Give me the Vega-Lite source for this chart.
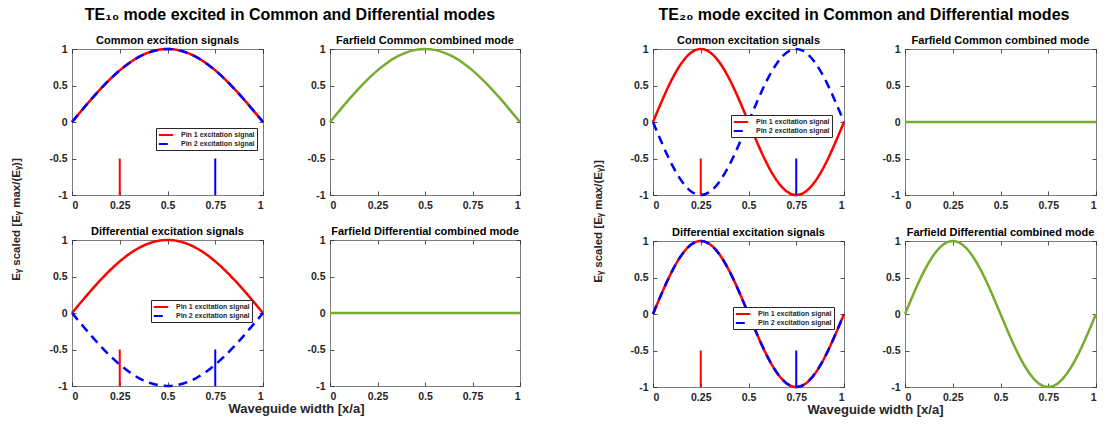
{
  "$schema": "https://vega.github.io/schema/vega-lite/v6.json",
  "background": "white",
  "autosize": {"type": "pad"},
  "padding": {"left": 9, "top": 6, "right": 0, "bottom": 0},
  "datasets": {
    "te10_common": [
      {"x":0,"Pin 1 excitation signal":0,"Pin 2 excitation signal":0,"Farfield":0},
      {"x":0.05,"Pin 1 excitation signal":0.156,"Pin 2 excitation signal":0.156,"Farfield":0.156},
      {"x":0.1,"Pin 1 excitation signal":0.309,"Pin 2 excitation signal":0.309,"Farfield":0.309},
      {"x":0.15,"Pin 1 excitation signal":0.454,"Pin 2 excitation signal":0.454,"Farfield":0.454},
      {"x":0.2,"Pin 1 excitation signal":0.588,"Pin 2 excitation signal":0.588,"Farfield":0.588},
      {"x":0.25,"Pin 1 excitation signal":0.707,"Pin 2 excitation signal":0.707,"Farfield":0.707},
      {"x":0.3,"Pin 1 excitation signal":0.809,"Pin 2 excitation signal":0.809,"Farfield":0.809},
      {"x":0.35,"Pin 1 excitation signal":0.891,"Pin 2 excitation signal":0.891,"Farfield":0.891},
      {"x":0.4,"Pin 1 excitation signal":0.951,"Pin 2 excitation signal":0.951,"Farfield":0.951},
      {"x":0.45,"Pin 1 excitation signal":0.988,"Pin 2 excitation signal":0.988,"Farfield":0.988},
      {"x":0.5,"Pin 1 excitation signal":1,"Pin 2 excitation signal":1,"Farfield":1},
      {"x":0.55,"Pin 1 excitation signal":0.988,"Pin 2 excitation signal":0.988,"Farfield":0.988},
      {"x":0.6,"Pin 1 excitation signal":0.951,"Pin 2 excitation signal":0.951,"Farfield":0.951},
      {"x":0.65,"Pin 1 excitation signal":0.891,"Pin 2 excitation signal":0.891,"Farfield":0.891},
      {"x":0.7,"Pin 1 excitation signal":0.809,"Pin 2 excitation signal":0.809,"Farfield":0.809},
      {"x":0.75,"Pin 1 excitation signal":0.707,"Pin 2 excitation signal":0.707,"Farfield":0.707},
      {"x":0.8,"Pin 1 excitation signal":0.588,"Pin 2 excitation signal":0.588,"Farfield":0.588},
      {"x":0.85,"Pin 1 excitation signal":0.454,"Pin 2 excitation signal":0.454,"Farfield":0.454},
      {"x":0.9,"Pin 1 excitation signal":0.309,"Pin 2 excitation signal":0.309,"Farfield":0.309},
      {"x":0.95,"Pin 1 excitation signal":0.156,"Pin 2 excitation signal":0.156,"Farfield":0.156},
      {"x":1,"Pin 1 excitation signal":0,"Pin 2 excitation signal":0,"Farfield":0}
    ],
    "te10_diff": [
      {"x":0,"Pin 1 excitation signal":0,"Pin 2 excitation signal":0,"Farfield":0},
      {"x":0.05,"Pin 1 excitation signal":0.156,"Pin 2 excitation signal":-0.156,"Farfield":0},
      {"x":0.1,"Pin 1 excitation signal":0.309,"Pin 2 excitation signal":-0.309,"Farfield":0},
      {"x":0.15,"Pin 1 excitation signal":0.454,"Pin 2 excitation signal":-0.454,"Farfield":0},
      {"x":0.2,"Pin 1 excitation signal":0.588,"Pin 2 excitation signal":-0.588,"Farfield":0},
      {"x":0.25,"Pin 1 excitation signal":0.707,"Pin 2 excitation signal":-0.707,"Farfield":0},
      {"x":0.3,"Pin 1 excitation signal":0.809,"Pin 2 excitation signal":-0.809,"Farfield":0},
      {"x":0.35,"Pin 1 excitation signal":0.891,"Pin 2 excitation signal":-0.891,"Farfield":0},
      {"x":0.4,"Pin 1 excitation signal":0.951,"Pin 2 excitation signal":-0.951,"Farfield":0},
      {"x":0.45,"Pin 1 excitation signal":0.988,"Pin 2 excitation signal":-0.988,"Farfield":0},
      {"x":0.5,"Pin 1 excitation signal":1,"Pin 2 excitation signal":-1,"Farfield":0},
      {"x":0.55,"Pin 1 excitation signal":0.988,"Pin 2 excitation signal":-0.988,"Farfield":0},
      {"x":0.6,"Pin 1 excitation signal":0.951,"Pin 2 excitation signal":-0.951,"Farfield":0},
      {"x":0.65,"Pin 1 excitation signal":0.891,"Pin 2 excitation signal":-0.891,"Farfield":0},
      {"x":0.7,"Pin 1 excitation signal":0.809,"Pin 2 excitation signal":-0.809,"Farfield":0},
      {"x":0.75,"Pin 1 excitation signal":0.707,"Pin 2 excitation signal":-0.707,"Farfield":0},
      {"x":0.8,"Pin 1 excitation signal":0.588,"Pin 2 excitation signal":-0.588,"Farfield":0},
      {"x":0.85,"Pin 1 excitation signal":0.454,"Pin 2 excitation signal":-0.454,"Farfield":0},
      {"x":0.9,"Pin 1 excitation signal":0.309,"Pin 2 excitation signal":-0.309,"Farfield":0},
      {"x":0.95,"Pin 1 excitation signal":0.156,"Pin 2 excitation signal":-0.156,"Farfield":0},
      {"x":1,"Pin 1 excitation signal":0,"Pin 2 excitation signal":0,"Farfield":0}
    ],
    "te20_common": [
      {"x":0,"Pin 1 excitation signal":0,"Pin 2 excitation signal":0,"Farfield":0},
      {"x":0.05,"Pin 1 excitation signal":0.309,"Pin 2 excitation signal":-0.309,"Farfield":0},
      {"x":0.1,"Pin 1 excitation signal":0.588,"Pin 2 excitation signal":-0.588,"Farfield":0},
      {"x":0.15,"Pin 1 excitation signal":0.809,"Pin 2 excitation signal":-0.809,"Farfield":0},
      {"x":0.2,"Pin 1 excitation signal":0.951,"Pin 2 excitation signal":-0.951,"Farfield":0},
      {"x":0.25,"Pin 1 excitation signal":1,"Pin 2 excitation signal":-1,"Farfield":0},
      {"x":0.3,"Pin 1 excitation signal":0.951,"Pin 2 excitation signal":-0.951,"Farfield":0},
      {"x":0.35,"Pin 1 excitation signal":0.809,"Pin 2 excitation signal":-0.809,"Farfield":0},
      {"x":0.4,"Pin 1 excitation signal":0.588,"Pin 2 excitation signal":-0.588,"Farfield":0},
      {"x":0.45,"Pin 1 excitation signal":0.309,"Pin 2 excitation signal":-0.309,"Farfield":0},
      {"x":0.5,"Pin 1 excitation signal":0,"Pin 2 excitation signal":0,"Farfield":0},
      {"x":0.55,"Pin 1 excitation signal":-0.309,"Pin 2 excitation signal":0.309,"Farfield":0},
      {"x":0.6,"Pin 1 excitation signal":-0.588,"Pin 2 excitation signal":0.588,"Farfield":0},
      {"x":0.65,"Pin 1 excitation signal":-0.809,"Pin 2 excitation signal":0.809,"Farfield":0},
      {"x":0.7,"Pin 1 excitation signal":-0.951,"Pin 2 excitation signal":0.951,"Farfield":0},
      {"x":0.75,"Pin 1 excitation signal":-1,"Pin 2 excitation signal":1,"Farfield":0},
      {"x":0.8,"Pin 1 excitation signal":-0.951,"Pin 2 excitation signal":0.951,"Farfield":0},
      {"x":0.85,"Pin 1 excitation signal":-0.809,"Pin 2 excitation signal":0.809,"Farfield":0},
      {"x":0.9,"Pin 1 excitation signal":-0.588,"Pin 2 excitation signal":0.588,"Farfield":0},
      {"x":0.95,"Pin 1 excitation signal":-0.309,"Pin 2 excitation signal":0.309,"Farfield":0},
      {"x":1,"Pin 1 excitation signal":0,"Pin 2 excitation signal":0,"Farfield":0}
    ],
    "te20_diff": [
      {"x":0,"Pin 1 excitation signal":0,"Pin 2 excitation signal":0,"Farfield":0},
      {"x":0.05,"Pin 1 excitation signal":0.309,"Pin 2 excitation signal":0.309,"Farfield":0.309},
      {"x":0.1,"Pin 1 excitation signal":0.588,"Pin 2 excitation signal":0.588,"Farfield":0.588},
      {"x":0.15,"Pin 1 excitation signal":0.809,"Pin 2 excitation signal":0.809,"Farfield":0.809},
      {"x":0.2,"Pin 1 excitation signal":0.951,"Pin 2 excitation signal":0.951,"Farfield":0.951},
      {"x":0.25,"Pin 1 excitation signal":1,"Pin 2 excitation signal":1,"Farfield":1},
      {"x":0.3,"Pin 1 excitation signal":0.951,"Pin 2 excitation signal":0.951,"Farfield":0.951},
      {"x":0.35,"Pin 1 excitation signal":0.809,"Pin 2 excitation signal":0.809,"Farfield":0.809},
      {"x":0.4,"Pin 1 excitation signal":0.588,"Pin 2 excitation signal":0.588,"Farfield":0.588},
      {"x":0.45,"Pin 1 excitation signal":0.309,"Pin 2 excitation signal":0.309,"Farfield":0.309},
      {"x":0.5,"Pin 1 excitation signal":0,"Pin 2 excitation signal":0,"Farfield":0},
      {"x":0.55,"Pin 1 excitation signal":-0.309,"Pin 2 excitation signal":-0.309,"Farfield":-0.309},
      {"x":0.6,"Pin 1 excitation signal":-0.588,"Pin 2 excitation signal":-0.588,"Farfield":-0.588},
      {"x":0.65,"Pin 1 excitation signal":-0.809,"Pin 2 excitation signal":-0.809,"Farfield":-0.809},
      {"x":0.7,"Pin 1 excitation signal":-0.951,"Pin 2 excitation signal":-0.951,"Farfield":-0.951},
      {"x":0.75,"Pin 1 excitation signal":-1,"Pin 2 excitation signal":-1,"Farfield":-1},
      {"x":0.8,"Pin 1 excitation signal":-0.951,"Pin 2 excitation signal":-0.951,"Farfield":-0.951},
      {"x":0.85,"Pin 1 excitation signal":-0.809,"Pin 2 excitation signal":-0.809,"Farfield":-0.809},
      {"x":0.9,"Pin 1 excitation signal":-0.588,"Pin 2 excitation signal":-0.588,"Farfield":-0.588},
      {"x":0.95,"Pin 1 excitation signal":-0.309,"Pin 2 excitation signal":-0.309,"Farfield":-0.309},
      {"x":1,"Pin 1 excitation signal":0,"Pin 2 excitation signal":0,"Farfield":0}
    ],
    "stubs": [
      {"x":0.25,"y0":-1,"y1":-0.5,"pin":"Pin 1"},
      {"x":0.75,"y0":-1,"y1":-0.5,"pin":"Pin 2"}
    ]
  },
  "spacing": 581,
  "bounds": "flush",
  "resolve": {"scale": {"color": "independent", "strokeDash": "independent"}},
  "hconcat": [
    {
      "title": {"text": "TE₁₀ mode excited in Common and Differential modes", "frame": "group", "anchor": "middle", "fontSize": 16, "offset": 12, "dx": 218},
      "columns": 2,
      "spacing": {"row": 45, "column": 67},
      "bounds": "flush",
      "resolve": {"scale": {"color": "independent", "strokeDash": "independent"}},
      "concat": [
        {
          "title": "Common excitation signals",
          "width": 191, "height": 146,
          "layer": [
            {
              "data": {"name": "te10_common"},
              "transform": [{"fold": ["Pin 1 excitation signal", "Pin 2 excitation signal"], "as": ["series", "value"]}],
              "mark": {"type": "line", "strokeWidth": 2.5, "interpolate": "natural"},
              "encoding": {
                "x": {"field": "x", "type": "quantitative", "scale": {"domain": [0, 1], "nice": false}, "axis": {"orient": "bottom", "values": [0, 0.25, 0.5, 0.75, 1], "labelExpr": "toString(datum.value)", "title": null}},
                "y": {"field": "value", "type": "quantitative", "scale": {"domain": [-1, 1], "nice": false}, "axis": {"orient": "left", "values": [-1, -0.5, 0, 0.5, 1], "labelExpr": "toString(datum.value)", "title": "Eᵧ scaled [Eᵧ max/(Eᵧ)]", "titleX": -56, "titleY": 170, "titleAngle": -90, "titleAlign": "center", "titleBaseline": "middle", "titleFontSize": 11.5}},
                "color": {"field": "series", "type": "nominal", "scale": {"domain": ["Pin 1 excitation signal", "Pin 2 excitation signal"], "range": ["#ff0000", "#0000ff"]}, "legend": {"orient": "none", "legendX": 84, "legendY": 79, "title": null}},
                "strokeDash": {"field": "series", "type": "nominal", "scale": {"domain": ["Pin 1 excitation signal", "Pin 2 excitation signal"], "range": [[1, 0], [9, 6]]}, "legend": {"orient": "none", "legendX": 84, "legendY": 79, "title": null}}
              }
            },
            {
              "data": {"name": "stubs"},
              "mark": {"type": "rule", "strokeWidth": 2},
              "encoding": {
                "x": {"field": "x", "type": "quantitative", "axis": {"orient": "top", "values": [0, 0.25, 0.5, 0.75, 1], "labels": false, "title": null}},
                "y": {"field": "y0", "type": "quantitative", "axis": {"orient": "right", "values": [-1, -0.5, 0, 0.5, 1], "labels": false, "title": null}},
                "y2": {"field": "y1"},
                "stroke": {"field": "pin", "type": "nominal", "scale": {"domain": ["Pin 1", "Pin 2"], "range": ["#ff0000", "#0000ff"]}, "legend": null}
              }
            }
          ],
          "resolve": {"axis": {"x": "independent", "y": "independent"}}
        },
        {
          "title": "Farfield Common combined mode",
          "width": 190, "height": 146,
          "data": {"name": "te10_common"},
          "layer": [
            {
              "mark": {"type": "line", "color": "#77ac30", "strokeWidth": 2.5, "interpolate": "natural"},
              "encoding": {
                "x": {"field": "x", "type": "quantitative", "scale": {"domain": [0, 1], "nice": false}, "axis": {"orient": "bottom", "values": [0, 0.25, 0.5, 0.75, 1], "labelExpr": "toString(datum.value)", "title": null}},
                "y": {"field": "Farfield", "type": "quantitative", "scale": {"domain": [-1, 1], "nice": false}, "axis": {"orient": "left", "values": [-1, -0.5, 0, 0.5, 1], "labelExpr": "toString(datum.value)", "title": null}}
              }
            },
            {
              "mark": {"type": "line", "opacity": 0},
              "encoding": {
                "x": {"field": "x", "type": "quantitative", "axis": {"orient": "top", "values": [0, 0.25, 0.5, 0.75, 1], "labels": false, "title": null}},
                "y": {"field": "Farfield", "type": "quantitative", "axis": {"orient": "right", "values": [-1, -0.5, 0, 0.5, 1], "labels": false, "title": null}}
              }
            }
          ],
          "resolve": {"axis": {"x": "independent", "y": "independent"}}
        },
        {
          "title": "Differential excitation signals",
          "width": 191, "height": 146,
          "layer": [
            {
              "data": {"name": "te10_diff"},
              "transform": [{"fold": ["Pin 1 excitation signal", "Pin 2 excitation signal"], "as": ["series", "value"]}],
              "mark": {"type": "line", "strokeWidth": 2.5, "interpolate": "natural"},
              "encoding": {
                "x": {"field": "x", "type": "quantitative", "scale": {"domain": [0, 1], "nice": false}, "axis": {"orient": "bottom", "values": [0, 0.25, 0.5, 0.75, 1], "labelExpr": "toString(datum.value)", "title": "Waveguide width [x/a]", "titleX": 224, "titleY": 22, "titleAlign": "center", "titleBaseline": "middle", "titleFontSize": 13}},
                "y": {"field": "value", "type": "quantitative", "scale": {"domain": [-1, 1], "nice": false}, "axis": {"orient": "left", "values": [-1, -0.5, 0, 0.5, 1], "labelExpr": "toString(datum.value)", "title": null}},
                "color": {"field": "series", "type": "nominal", "scale": {"domain": ["Pin 1 excitation signal", "Pin 2 excitation signal"], "range": ["#ff0000", "#0000ff"]}, "legend": {"orient": "none", "legendX": 79, "legendY": 60, "title": null}},
                "strokeDash": {"field": "series", "type": "nominal", "scale": {"domain": ["Pin 1 excitation signal", "Pin 2 excitation signal"], "range": [[1, 0], [9, 6]]}, "legend": {"orient": "none", "legendX": 79, "legendY": 60, "title": null}}
              }
            },
            {
              "data": {"name": "stubs"},
              "mark": {"type": "rule", "strokeWidth": 2},
              "encoding": {
                "x": {"field": "x", "type": "quantitative", "axis": {"orient": "top", "values": [0, 0.25, 0.5, 0.75, 1], "labels": false, "title": null}},
                "y": {"field": "y0", "type": "quantitative", "axis": {"orient": "right", "values": [-1, -0.5, 0, 0.5, 1], "labels": false, "title": null}},
                "y2": {"field": "y1"},
                "stroke": {"field": "pin", "type": "nominal", "scale": {"domain": ["Pin 1", "Pin 2"], "range": ["#ff0000", "#0000ff"]}, "legend": null}
              }
            }
          ],
          "resolve": {"axis": {"x": "independent", "y": "independent"}}
        },
        {
          "title": "Farfield Differential combined mode",
          "width": 190, "height": 146,
          "data": {"name": "te10_diff"},
          "layer": [
            {
              "mark": {"type": "line", "color": "#77ac30", "strokeWidth": 2.5, "interpolate": "natural"},
              "encoding": {
                "x": {"field": "x", "type": "quantitative", "scale": {"domain": [0, 1], "nice": false}, "axis": {"orient": "bottom", "values": [0, 0.25, 0.5, 0.75, 1], "labelExpr": "toString(datum.value)", "title": null}},
                "y": {"field": "Farfield", "type": "quantitative", "scale": {"domain": [-1, 1], "nice": false}, "axis": {"orient": "left", "values": [-1, -0.5, 0, 0.5, 1], "labelExpr": "toString(datum.value)", "title": null}}
              }
            },
            {
              "mark": {"type": "line", "opacity": 0},
              "encoding": {
                "x": {"field": "x", "type": "quantitative", "axis": {"orient": "top", "values": [0, 0.25, 0.5, 0.75, 1], "labels": false, "title": null}},
                "y": {"field": "Farfield", "type": "quantitative", "axis": {"orient": "right", "values": [-1, -0.5, 0, 0.5, 1], "labels": false, "title": null}}
              }
            }
          ],
          "resolve": {"axis": {"x": "independent", "y": "independent"}}
        }
      ]
    },
    {
      "title": {"text": "TE₂₀ mode excited in Common and Differential modes", "frame": "group", "anchor": "middle", "fontSize": 16, "offset": 12, "dx": 211},
      "columns": 2,
      "spacing": {"row": 46, "column": 61},
      "bounds": "flush",
      "resolve": {"scale": {"color": "independent", "strokeDash": "independent"}},
      "concat": [
        {
          "title": "Common excitation signals",
          "width": 191, "height": 146,
          "layer": [
            {
              "data": {"name": "te20_common"},
              "transform": [{"fold": ["Pin 1 excitation signal", "Pin 2 excitation signal"], "as": ["series", "value"]}],
              "mark": {"type": "line", "strokeWidth": 2.5, "interpolate": "natural"},
              "encoding": {
                "x": {"field": "x", "type": "quantitative", "scale": {"domain": [0, 1], "nice": false}, "axis": {"orient": "bottom", "values": [0, 0.25, 0.5, 0.75, 1], "labelExpr": "toString(datum.value)", "title": null}},
                "y": {"field": "value", "type": "quantitative", "scale": {"domain": [-1, 1], "nice": false}, "axis": {"orient": "left", "values": [-1, -0.5, 0, 0.5, 1], "labelExpr": "toString(datum.value)", "title": "Eᵧ scaled [Eᵧ max/(Eᵧ)]", "titleX": -55, "titleY": 172, "titleAngle": -90, "titleAlign": "center", "titleBaseline": "middle", "titleFontSize": 11.5}},
                "color": {"field": "series", "type": "nominal", "scale": {"domain": ["Pin 1 excitation signal", "Pin 2 excitation signal"], "range": ["#ff0000", "#0000ff"]}, "legend": {"orient": "none", "legendX": 78, "legendY": 66, "title": null}},
                "strokeDash": {"field": "series", "type": "nominal", "scale": {"domain": ["Pin 1 excitation signal", "Pin 2 excitation signal"], "range": [[1, 0], [9, 6]]}, "legend": {"orient": "none", "legendX": 78, "legendY": 66, "title": null}}
              }
            },
            {
              "data": {"name": "stubs"},
              "mark": {"type": "rule", "strokeWidth": 2},
              "encoding": {
                "x": {"field": "x", "type": "quantitative", "axis": {"orient": "top", "values": [0, 0.25, 0.5, 0.75, 1], "labels": false, "title": null}},
                "y": {"field": "y0", "type": "quantitative", "axis": {"orient": "right", "values": [-1, -0.5, 0, 0.5, 1], "labels": false, "title": null}},
                "y2": {"field": "y1"},
                "stroke": {"field": "pin", "type": "nominal", "scale": {"domain": ["Pin 1", "Pin 2"], "range": ["#ff0000", "#0000ff"]}, "legend": null}
              }
            }
          ],
          "resolve": {"axis": {"x": "independent", "y": "independent"}}
        },
        {
          "title": "Farfield Common combined mode",
          "width": 191, "height": 146,
          "data": {"name": "te20_common"},
          "layer": [
            {
              "mark": {"type": "line", "color": "#77ac30", "strokeWidth": 2.5, "interpolate": "natural"},
              "encoding": {
                "x": {"field": "x", "type": "quantitative", "scale": {"domain": [0, 1], "nice": false}, "axis": {"orient": "bottom", "values": [0, 0.25, 0.5, 0.75, 1], "labelExpr": "toString(datum.value)", "title": null}},
                "y": {"field": "Farfield", "type": "quantitative", "scale": {"domain": [-1, 1], "nice": false}, "axis": {"orient": "left", "values": [-1, -0.5, 0, 0.5, 1], "labelExpr": "toString(datum.value)", "title": null}}
              }
            },
            {
              "mark": {"type": "line", "opacity": 0},
              "encoding": {
                "x": {"field": "x", "type": "quantitative", "axis": {"orient": "top", "values": [0, 0.25, 0.5, 0.75, 1], "labels": false, "title": null}},
                "y": {"field": "Farfield", "type": "quantitative", "axis": {"orient": "right", "values": [-1, -0.5, 0, 0.5, 1], "labels": false, "title": null}}
              }
            }
          ],
          "resolve": {"axis": {"x": "independent", "y": "independent"}}
        },
        {
          "title": "Differential excitation signals",
          "width": 191, "height": 146,
          "layer": [
            {
              "data": {"name": "te20_diff"},
              "transform": [{"fold": ["Pin 1 excitation signal", "Pin 2 excitation signal"], "as": ["series", "value"]}],
              "mark": {"type": "line", "strokeWidth": 2.5, "interpolate": "natural"},
              "encoding": {
                "x": {"field": "x", "type": "quantitative", "scale": {"domain": [0, 1], "nice": false}, "axis": {"orient": "bottom", "values": [0, 0.25, 0.5, 0.75, 1], "labelExpr": "toString(datum.value)", "title": "Waveguide width [x/a]", "titleX": 222, "titleY": 22, "titleAlign": "center", "titleBaseline": "middle", "titleFontSize": 13}},
                "y": {"field": "value", "type": "quantitative", "scale": {"domain": [-1, 1], "nice": false}, "axis": {"orient": "left", "values": [-1, -0.5, 0, 0.5, 1], "labelExpr": "toString(datum.value)", "title": null}},
                "color": {"field": "series", "type": "nominal", "scale": {"domain": ["Pin 1 excitation signal", "Pin 2 excitation signal"], "range": ["#ff0000", "#0000ff"]}, "legend": {"orient": "none", "legendX": 80, "legendY": 66, "title": null}},
                "strokeDash": {"field": "series", "type": "nominal", "scale": {"domain": ["Pin 1 excitation signal", "Pin 2 excitation signal"], "range": [[1, 0], [9, 6]]}, "legend": {"orient": "none", "legendX": 80, "legendY": 66, "title": null}}
              }
            },
            {
              "data": {"name": "stubs"},
              "mark": {"type": "rule", "strokeWidth": 2},
              "encoding": {
                "x": {"field": "x", "type": "quantitative", "axis": {"orient": "top", "values": [0, 0.25, 0.5, 0.75, 1], "labels": false, "title": null}},
                "y": {"field": "y0", "type": "quantitative", "axis": {"orient": "right", "values": [-1, -0.5, 0, 0.5, 1], "labels": false, "title": null}},
                "y2": {"field": "y1"},
                "stroke": {"field": "pin", "type": "nominal", "scale": {"domain": ["Pin 1", "Pin 2"], "range": ["#ff0000", "#0000ff"]}, "legend": null}
              }
            }
          ],
          "resolve": {"axis": {"x": "independent", "y": "independent"}}
        },
        {
          "title": "Farfield Differential combined mode",
          "width": 191, "height": 146,
          "data": {"name": "te20_diff"},
          "layer": [
            {
              "mark": {"type": "line", "color": "#77ac30", "strokeWidth": 2.5, "interpolate": "natural"},
              "encoding": {
                "x": {"field": "x", "type": "quantitative", "scale": {"domain": [0, 1], "nice": false}, "axis": {"orient": "bottom", "values": [0, 0.25, 0.5, 0.75, 1], "labelExpr": "toString(datum.value)", "title": null}},
                "y": {"field": "Farfield", "type": "quantitative", "scale": {"domain": [-1, 1], "nice": false}, "axis": {"orient": "left", "values": [-1, -0.5, 0, 0.5, 1], "labelExpr": "toString(datum.value)", "title": null}}
              }
            },
            {
              "mark": {"type": "line", "opacity": 0},
              "encoding": {
                "x": {"field": "x", "type": "quantitative", "axis": {"orient": "top", "values": [0, 0.25, 0.5, 0.75, 1], "labels": false, "title": null}},
                "y": {"field": "Farfield", "type": "quantitative", "axis": {"orient": "right", "values": [-1, -0.5, 0, 0.5, 1], "labels": false, "title": null}}
              }
            }
          ],
          "resolve": {"axis": {"x": "independent", "y": "independent"}}
        }
      ]
    }
  ],
  "config": {
    "font": "Liberation Sans",
    "view": {"stroke": "#7f7f7f", "strokeWidth": 1},
    "axis": {"grid": false, "domain": false, "tickSize": -4, "tickColor": "#262626", "tickWidth": 0.8, "labelFontSize": 10.5, "labelFontWeight": "bold", "labelColor": "#262626", "labelPadding": 9, "titleFontSize": 11, "titleFontWeight": "bold", "titleColor": "#262626"},
    "title": {"fontSize": 11, "fontWeight": "bold", "color": "#000000", "offset": -2},
    "legend": {"strokeColor": "#262626", "fillColor": "white", "padding": 2, "labelFontSize": 7, "labelFontWeight": "bold", "labelColor": "#262626", "symbolType": "M-1.8,0H1.8", "symbolStrokeWidth": 2, "symbolSize": 64, "symbolOffset": 3, "rowPadding": 0, "labelOffset": 10, "cornerRadius": 0}
  }
}
